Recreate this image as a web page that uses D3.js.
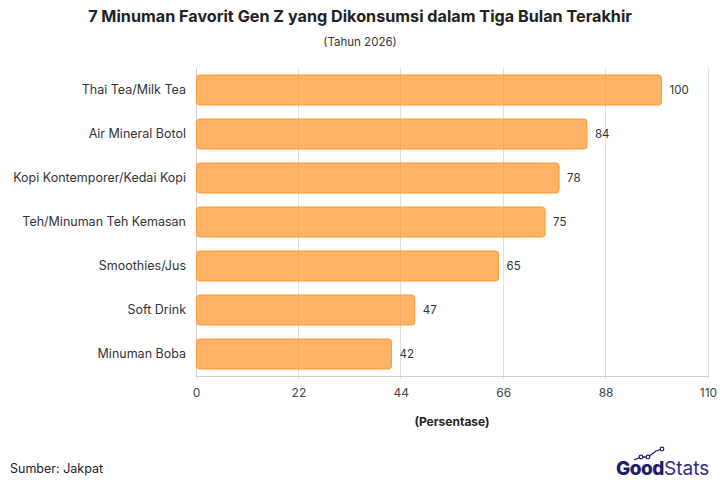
<!DOCTYPE html>
<html><head><meta charset="utf-8">
<script src="https://cdn.jsdelivr.net/npm/d3@7"></script>
<style>body{margin:0;background:#fff;} text{font-family:Inter,"Noto Sans",sans-serif;}</style>
</head><body><svg id="c" width="720" height="480"></svg>
<script>
const categories = ["Thai Tea/Milk Tea","Air Mineral Botol","Kopi Kontemporer/Kedai Kopi","Teh/Minuman Teh Kemasan","Smoothies/Jus","Soft Drink","Minuman Boba"];
const values = [100,84,78,75,65,47,42];
const tickValues = [0,22,44,66,88,110];
const title = "7 Minuman Favorit Gen Z yang Dikonsumsi dalam Tiga Bulan Terakhir";
const subtitle = "(Tahun 2026)";
const axisTitle = "(Persentase)";
const source = "Sumber: Jakpat";

const svg = d3.select("#c");
const pL = 196, pR = 708, pT = 68, pB = 376;
const x = d3.scaleLinear().domain([0,110]).range([pL,pR]);
const y = d3.scaleBand().domain(categories).range([pT,pB]).paddingInner(0.318).paddingOuter(0.159);

svg.append("text").attr("x",360).attr("y",22).attr("text-anchor","middle")
  .attr("font-size",16.2).attr("font-weight",700).attr("fill","#222").text(title);
svg.append("text").attr("x",360).attr("y",46).attr("text-anchor","middle")
  .attr("font-size",11.5).attr("fill","#333").text(subtitle);

// grid
svg.append("g").selectAll("line").data(tickValues).join("line")
  .attr("x1",d=>x(d)).attr("x2",d=>x(d)).attr("y1",pT).attr("y2",pB+3)
  .attr("stroke","#e0e0e0").attr("stroke-width",1).attr("shape-rendering","crispEdges");

// bottom axis
const ax = svg.append("g").attr("transform",`translate(0,${pB})`)
  .call(d3.axisBottom(x).tickValues(tickValues).tickSize(0).tickPadding(12));
ax.select(".domain").attr("stroke","#ccc");
ax.selectAll("text").attr("font-size",12).attr("fill","#444").style("font-family","Inter,'Noto Sans',sans-serif");

// left axis
const ay = svg.append("g").attr("transform",`translate(${pL},0)`)
  .call(d3.axisLeft(y).tickSize(0).tickPadding(10));
ay.select(".domain").attr("stroke","#ccc");
ay.selectAll("text").attr("font-size",12.5).attr("fill","#333").style("font-family","Inter,'Noto Sans',sans-serif");

// bars
svg.append("g").selectAll("rect").data(values).join("rect")
  .attr("x",x(0)+0.5).attr("y",(d,i)=>y(categories[i]))
  .attr("width",d=>x(d)-x(0)-0.5).attr("height",y.bandwidth())
  .attr("rx",3).attr("fill","#ff9933").attr("fill-opacity",0.75)
  .attr("stroke","#ff9933").attr("stroke-width",1);

svg.append("g").selectAll("text").data(values).join("text")
  .attr("x",d=>x(d)+8).attr("y",(d,i)=>y(categories[i])+y.bandwidth()/2+4)
  .attr("font-size",11.5).attr("fill","#333").text(d=>d);

svg.append("text").attr("x",(pL+pR)/2).attr("y",426).attr("text-anchor","middle")
  .attr("font-size",12).attr("font-weight",700).attr("fill","#222").text(axisTitle);

svg.append("text").attr("x",10).attr("y",473).attr("font-size",12.5).attr("fill","#222").text(source);

// logo
const lg = svg.append("g");
lg.append("text").attr("x",616).attr("y",475).attr("font-size",19).attr("font-weight",800)
  .attr("fill","#1f1d6b").attr("letter-spacing",-0.5).text("Good");
lg.append("text").attr("x",664).attr("y",475).attr("font-size",19).attr("font-weight",400)
  .attr("fill","#2e2c85").text("Stats");
const pts = [[634,460],[641,457],[648,457],[656,451],[662,449]];
lg.append("path").attr("d",d3.line()(pts)).attr("fill","none").attr("stroke","#1f1d6b").attr("stroke-width",1.3);
lg.selectAll("circle").data([pts[1],pts[2],pts[4]]).join("circle")
  .attr("cx",d=>d[0]).attr("cy",d=>d[1]).attr("r",1.8).attr("fill","#fff").attr("stroke","#1f1d6b").attr("stroke-width",1.2);
</script></body></html>
